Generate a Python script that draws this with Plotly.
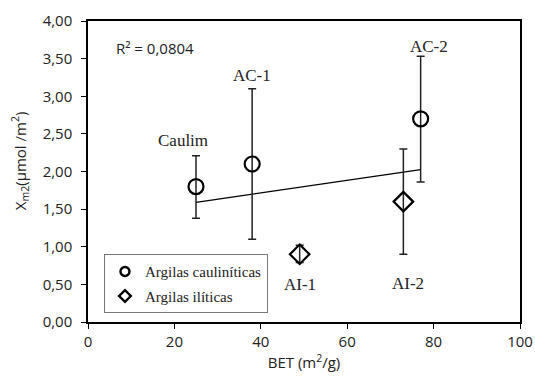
import numpy as np
import plotly.graph_objects as go

# --- data ---
kaol_names = ["Caulim", "AC-1", "AC-2"]
kaol_bet = [25, 38, 77]
kaol_xm2 = [1.80, 2.10, 2.70]
kaol_hi = [2.21, 3.10, 3.53]
kaol_lo = [1.38, 1.10, 1.86]

ilit_names = ["AI-1", "AI-2"]
ilit_bet = [49, 73]
ilit_xm2 = [0.90, 1.60]
ilit_hi = [1.02, 2.30]
ilit_lo = [0.79, 0.90]

x_ticks = [0, 20, 40, 60, 80, 100]
y_ticks = [0, 0.5, 1.0, 1.5, 2.0, 2.5, 3.0, 3.5, 4.0]

# trendline over all samples
all_x = np.array(kaol_bet + ilit_bet, dtype=float)
all_y = np.array(kaol_xm2 + ilit_xm2, dtype=float)
slope, intercept = np.polyfit(all_x, all_y, 1)
pred = slope * all_x + intercept
r2 = 1 - np.sum((all_y - pred) ** 2) / np.sum((all_y - all_y.mean()) ** 2)
tx = np.array([all_x.min(), all_x.max()])
ty = slope * tx + intercept

TICKFONT = dict(family="Open Sans", size=15, color="#222")
SERIF = "Liberation Serif"

fig = go.Figure()

fig.add_trace(go.Scatter(
    x=tx, y=ty, mode="lines", line=dict(color="black", width=1.3),
    showlegend=False, hoverinfo="skip"))

fig.add_trace(go.Scatter(
    x=kaol_bet, y=kaol_xm2, mode="markers", showlegend=False,
    marker=dict(symbol="circle-open", size=15, color="black", line=dict(width=2.2)),
    error_y=dict(type="data", symmetric=False,
                 array=[h - v for h, v in zip(kaol_hi, kaol_xm2)],
                 arrayminus=[v - l for l, v in zip(kaol_lo, kaol_xm2)],
                 color="#222", thickness=1.5, width=4)))

fig.add_trace(go.Scatter(
    x=ilit_bet, y=ilit_xm2, mode="markers", showlegend=False,
    marker=dict(symbol="diamond-open", size=15, color="black", line=dict(width=2.2)),
    error_y=dict(type="data", symmetric=False,
                 array=[h - v for h, v in zip(ilit_hi, ilit_xm2)],
                 arrayminus=[v - l for l, v in zip(ilit_lo, ilit_xm2)],
                 color="#222", thickness=1.5, width=4)))

# legend entries (smaller markers, as in the reference legend)
fig.add_trace(go.Scatter(
    x=[None], y=[None], mode="markers", name="Argilas cauliníticas", legendgroup="a",
    marker=dict(symbol="circle-open", size=9, color="black", line=dict(width=2.4))))
fig.add_trace(go.Scatter(
    x=[None], y=[None], mode="markers", name="Argilas ilíticas", legendgroup="b",
    marker=dict(symbol="diamond-open", size=9, color="black", line=dict(width=2.4))))

annotations = []
k_shift = [(-13, 4), (0, 2), (8, -2)]
for name, x, hi, (dx, dy) in zip(kaol_names, kaol_bet, kaol_hi, k_shift):
    annotations.append(dict(x=x, y=hi, text=name, showarrow=False,
                            xanchor="center", yanchor="bottom", xshift=dx, yshift=dy,
                            font=dict(family=SERIF, size=17, color="#222")))
i_shift = [(0, -10), (5, -18)]
for name, x, lo, (dx, dy) in zip(ilit_names, ilit_bet, ilit_lo, i_shift):
    annotations.append(dict(x=x, y=lo, text=name, showarrow=False,
                            xanchor="center", yanchor="top", xshift=dx, yshift=dy,
                            font=dict(family=SERIF, size=17, color="#222")))
annotations.append(dict(x=0.06, y=0.91, xref="paper", yref="paper",
                        text="R² = " + f"{r2:.4f}".replace(".", ","),
                        showarrow=False, xanchor="left", yanchor="middle",
                        font=dict(family="Open Sans", size=15, color="#222")))
# y-axis title
annotations.append(dict(x=-0.157, y=0.535, xref="paper", yref="paper",
                        text="X<sub>m2</sub>(µmol /m<sup>2</sup>)", textangle=-90,
                        showarrow=False, xanchor="center", yanchor="middle",
                        font=TICKFONT))

fig.update_layout(
    width=535, height=377, autosize=False,
    margin=dict(l=88, r=15, t=21, b=55),
    paper_bgcolor="white", plot_bgcolor="white",
    separators=",.",
    annotations=annotations,
    legend=dict(x=0.037, y=0.225, xanchor="left", yanchor="top",
                bordercolor="#777", borderwidth=1, bgcolor="white",
                font=dict(family=SERIF, size=15, color="#222"),
                itemwidth=30, tracegroupgap=2, traceorder="grouped"),
    xaxis=dict(range=[0, 100], tickvals=x_ticks, ticks="outside", ticklen=5,
               tickcolor="black", showline=True, linecolor="black", linewidth=1.5,
               mirror=True, showgrid=False, zeroline=False, tickfont=TICKFONT,
               automargin=False,
               title=dict(text="BET (m<sup>2</sup>/g)", font=TICKFONT, standoff=8)),
    yaxis=dict(range=[0, 4], tickvals=y_ticks, tickformat=".2f", ticks="outside",
               ticklen=5, tickcolor="black", showline=True, linecolor="black",
               linewidth=1.5, mirror=True, showgrid=False, zeroline=False,
               tickfont=TICKFONT, ticklabelstandoff=6, automargin=False),
)

fig.write_html("out.html",
               config={"displayModeBar": False, "responsive": False},
               post_script="document.body.style.margin='0';document.body.style.overflow='hidden';")
